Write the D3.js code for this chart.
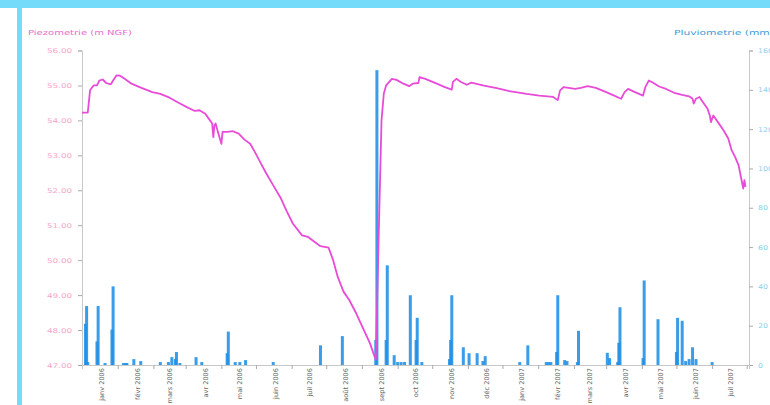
<!DOCTYPE html>
<html><head><meta charset="utf-8">
<script src="https://cdn.jsdelivr.net/npm/d3@7"></script>
<style>body{margin:0;background:#fff;}svg{display:block;}</style>
</head><body>
<svg id="c" width="770" height="405"></svg>
<script>
// ---- data ----
const piezoDates = ["2005-12-15","2005-12-20","2005-12-22","2005-12-25","2005-12-28","2005-12-30","2006-01-02","2006-01-05","2006-01-09","2006-01-11","2006-01-14","2006-01-17","2006-01-21","2006-01-27","2006-02-03","2006-02-14","2006-02-21","2006-03-01","2006-03-08","2006-03-16","2006-03-23","2006-03-27","2006-04-01","2006-04-04","2006-04-07","2006-04-08","2006-04-09","2006-04-10","2006-04-12","2006-04-15","2006-04-16","2006-04-20","2006-04-25","2006-04-30","2006-05-05","2006-05-10","2006-05-14","2006-05-18","2006-05-24","2006-05-30","2006-06-05","2006-06-11","2006-06-16","2006-06-24","2006-06-29","2006-07-05","2006-07-10","2006-07-17","2006-07-21","2006-07-25","2006-07-30","2006-08-04","2006-08-10","2006-08-16","2006-08-22","2006-08-26","2006-08-27","2006-08-30","2006-09-01","2006-09-03","2006-09-05","2006-09-10","2006-09-14","2006-09-20","2006-09-25","2006-09-28","2006-10-03","2006-10-04","2006-10-09","2006-10-19","2006-10-26","2006-11-01","2006-11-02","2006-11-05","2006-11-09","2006-11-14","2006-11-18","2006-11-28","2006-12-10","2006-12-21","2007-01-05","2007-01-16","2007-01-28","2007-02-01","2007-02-03","2007-02-06","2007-02-16","2007-02-21","2007-02-27","2007-03-06","2007-03-15","2007-03-22","2007-03-28","2007-03-31","2007-04-03","2007-04-09","2007-04-16","2007-04-18","2007-04-21","2007-04-24","2007-04-30","2007-05-06","2007-05-13","2007-05-20","2007-05-26","2007-05-29","2007-05-30","2007-06-01","2007-06-04","2007-06-06","2007-06-11","2007-06-13","2007-06-14","2007-06-16","2007-06-20","2007-06-25","2007-06-29","2007-07-02","2007-07-05","2007-07-08","2007-07-10","2007-07-12","2007-07-13","2007-07-14"];
const piezoValues = [54.22,54.22,54.86,55.0,55.0,55.14,55.17,55.07,55.03,55.14,55.29,55.28,55.19,55.05,54.95,54.81,54.76,54.65,54.52,54.38,54.27,54.29,54.19,54.05,53.91,53.52,53.86,53.91,53.67,53.33,53.67,53.67,53.69,53.62,53.45,53.33,53.10,52.85,52.48,52.14,51.81,51.38,51.05,50.71,50.67,50.52,50.40,50.36,50.00,49.52,49.10,48.86,48.48,48.05,47.62,47.24,47.15,51.30,54.00,54.77,55.00,55.19,55.16,55.05,54.98,55.05,55.07,55.24,55.19,55.05,54.95,54.88,55.10,55.19,55.10,55.02,55.08,55.00,54.92,54.84,54.76,54.71,54.67,54.58,54.86,54.95,54.90,54.93,54.98,54.93,54.81,54.71,54.62,54.81,54.90,54.81,54.71,54.95,55.14,55.09,54.97,54.90,54.79,54.73,54.69,54.62,54.48,54.62,54.67,54.57,54.33,54.14,53.95,54.14,53.95,53.71,53.48,53.14,52.95,52.71,52.38,52.05,52.29,52.10];

const rainDates = ["2005-12-18","2005-12-19","2005-12-20","2005-12-28","2005-12-29","2006-01-04","2006-01-10","2006-01-11","2006-01-20","2006-01-22","2006-01-23","2006-01-29","2006-02-04","2006-02-21","2006-02-28","2006-03-03","2006-03-06","2006-03-07","2006-03-10","2006-03-24","2006-03-29","2006-04-20","2006-04-21","2006-04-27","2006-05-01","2006-05-06","2006-05-30","2006-07-10","2006-07-29","2006-08-27","2006-08-28","2006-09-05","2006-09-06","2006-09-12","2006-09-15","2006-09-18","2006-09-21","2006-09-26","2006-10-01","2006-10-02","2006-10-06","2006-10-30","2006-10-31","2006-11-01","2006-11-11","2006-11-16","2006-11-23","2006-11-28","2006-11-30","2006-12-30","2007-01-06","2007-01-22","2007-01-24","2007-01-26","2007-01-31","2007-02-01","2007-02-07","2007-02-09","2007-02-18","2007-02-19","2007-03-16","2007-03-18","2007-03-25","2007-03-26","2007-03-27","2007-04-16","2007-04-17","2007-04-29","2007-05-15","2007-05-16","2007-05-20","2007-05-23","2007-05-26","2007-05-29","2007-06-01","2007-06-15"];
const rainValues = [21,30,1.5,12,30,1,18,40,1,1,1,3,2,1.5,1.5,4,3,6.6,1,4,1.5,6,17,1.5,1.5,2.5,1.5,10,14.7,12.7,150,12.7,50.7,5,1.5,1.5,1.5,35.5,12.7,24,1.5,3,12.7,35.5,9,6,6,2,4.5,1.5,10,1.5,1.5,1.5,6.6,35.5,2.5,2,1.5,17.4,6.2,3.5,1.5,11.3,29.4,3.5,43,23.3,6.6,24,22.5,2,3,9,3,1.5];

const monthLabels = ["janv 2006","févr 2006","mars 2006","avr 2006","mai 2006","juin 2006","juil 2006","août 2006","sept 2006","oct 2006","nov 2006","déc 2006","janv 2007","févr 2007","mars 2007","avr 2007","mai 2007","juin 2007","juil 2007"];
const leftTicks = [47,48,49,50,51,52,53,54,55,56];
const rightTicks = [0,20,40,60,80,100,120,140,160];
const leftTitle = "Piezometrie (m NGF)";
const rightTitle = "Pluviometrie (mm)";

// ---- chart ----
const parse = d3.timeParse("%Y-%m-%d");
const svg = d3.select("#c");
const L = 82, R = 749, T = 50.5, B = 365;

// frame
svg.append("rect").attr("x",0).attr("y",0).attr("width",770).attr("height",8).attr("fill","#74dbfb");
svg.append("rect").attr("x",17).attr("y",0).attr("width",5).attr("height",405).attr("fill","#74dbfb");

const x = d3.scaleTime().domain([new Date(2005,11,15), new Date(2007,6,17)]).range([L,R]);
const yL = d3.scaleLinear().domain([47,56]).range([B,T]);
const yR = d3.scaleLinear().domain([0,160]).range([B,T]);

// bars
const rain = rainDates.map((d,i)=>({date:parse(d), v:rainValues[i]}));
svg.append("g").selectAll("rect").data(rain).join("rect")
  .attr("x", d=>x(d.date)-1.5).attr("width",3)
  .attr("y", d=>yR(d.v)).attr("height", d=>B-yR(d.v))
  .attr("fill","#1f8fe6").attr("opacity",0.88);

// axes
const grey = "#c8c8c8";
const gl = svg.append("g").attr("transform",`translate(${L},0)`)
  .call(d3.axisLeft(yL).tickValues(leftTicks).tickFormat(d3.format(".2f")).tickSize(4).tickPadding(6));
const gr = svg.append("g").attr("transform",`translate(${R},0)`)
  .call(d3.axisRight(yR).tickValues(rightTicks).tickSize(4).tickPadding(5));
const gb = svg.append("g").attr("transform",`translate(0,${B})`)
  .call(d3.axisBottom(x).tickValues(d3.timeMonth.range(new Date(2005,11,15), new Date(2007,6,17)).map(d=>new Date(d.getFullYear(), d.getMonth(), 15))).tickSize(4).tickFormat(""));
[gl,gr,gb].forEach(g=>{
  g.select(".domain").attr("stroke",grey);
  g.selectAll(".tick line").attr("stroke","#aaa");
});
gl.selectAll(".tick text").attr("font-family","DejaVu Sans, sans-serif").attr("font-size",6.5)
  .attr("fill","#f4a6c8").attr("textLength",25).attr("lengthAdjust","spacingAndGlyphs");
gr.selectAll(".tick text").attr("font-family","DejaVu Sans, sans-serif").attr("font-size",6.5)
  .attr("fill","#8ccfee").each(function(d){ d3.select(this).attr("textLength", String(d).length*5).attr("lengthAdjust","spacingAndGlyphs"); });

// month labels
const months = d3.timeMonth.range(new Date(2006,0,1), new Date(2007,6,2));
svg.append("g").selectAll("text").data(months).join("text")
  .attr("transform", (d)=>`translate(${x(d)},${B+3}) rotate(-90)`)
  .attr("text-anchor","end").attr("dy","0.35em")
  .attr("font-family","DejaVu Sans, sans-serif").attr("font-size",6.6)
  .attr("fill","#666").text((d,i)=>monthLabels[i]);

// line
const piezo = piezoDates.map((d,i)=>({date:parse(d), v:piezoValues[i]}));
svg.append("path").datum(piezo)
  .attr("d", d3.line().x(d=>x(d.date)).y(d=>yL(d.v)))
  .attr("fill","none").attr("stroke","#e84bd8").attr("stroke-width",1.8).attr("stroke-linejoin","round");

// titles
svg.append("text").attr("x",28).attr("y",35).attr("font-family","DejaVu Sans, sans-serif").attr("font-size",7)
  .attr("fill","#e86ccc").attr("textLength",104).attr("lengthAdjust","spacingAndGlyphs").text(leftTitle);
svg.append("text").attr("x",674).attr("y",35).attr("font-family","DejaVu Sans, sans-serif").attr("font-size",7)
  .attr("fill","#3b9ad8").attr("textLength",100).attr("lengthAdjust","spacingAndGlyphs").text(rightTitle);
</script>
</body></html>
